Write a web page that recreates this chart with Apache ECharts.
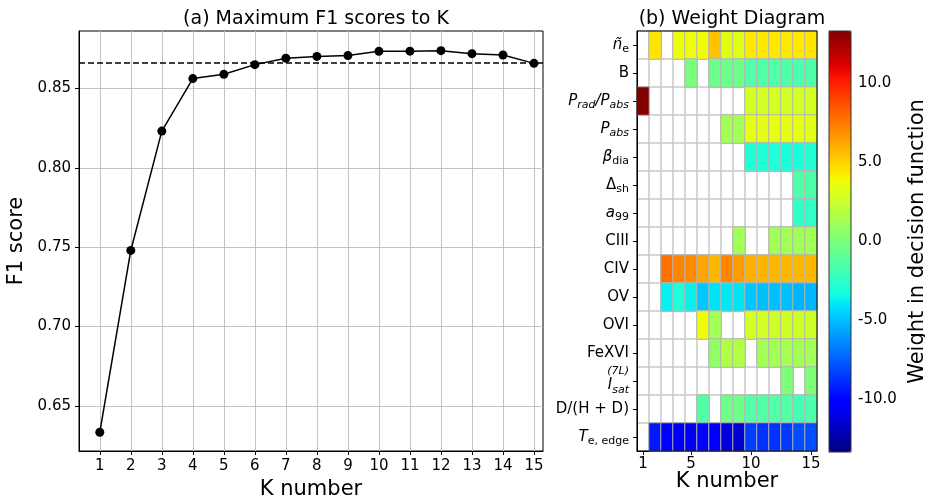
<!DOCTYPE html>
<html>
<head>
<meta charset="utf-8">
<script src="https://cdn.jsdelivr.net/npm/echarts@6/dist/echarts.min.js"></script>
<style>
  html, body { margin: 0; padding: 0; background: #fff; }
  #chart { width: 925px; height: 497px; }
</style>
</head>
<body>
<div id="chart"></div>
<script>
// ---- (a) best F1 score for each number of selected features K ----
const kNumbers = [1, 2, 3, 4, 5, 6, 7, 8, 9, 10, 11, 12, 13, 14, 15];
const f1Scores = [0.6334, 0.7480, 0.8232, 0.8563, 0.8590, 0.8651, 0.8691, 0.8703,
                  0.8708, 0.8735, 0.8736, 0.8739, 0.8720, 0.8712, 0.8659];
const f1Reference = 0.866;
const f1Ticks = [0.65, 0.70, 0.75, 0.80, 0.85];

// ---- (b) feature weights in the decision function (null = feature not used) ----
const featureLabels = [
  '{it|ñ}{sub|e}',
  '{rm|B}',
  '{it|P}{isub|rad}{it|/P}{isub|abs}',
  '{it|P}{isub|abs}',
  '{it|β}{sub|dia}',
  '{rm|Δ}{sub|sh}',
  '{it|a}{sub|99}',
  '{rm|CIII}',
  '{rm|CIV}',
  '{rm|OV}',
  '{rm|OVI}',
  '{rm|FeXVI}',
  '{sup|(7L)}\n{it|I}{isub|sat}',
  '{rm|D/(H + D)}',
  '{it|T}{sub|e, edge}'
];
const weightNe      = [null, 4.45, null, 3.6, 3.75, 3.8, 5.5, 3.3, 3.3, 4.35, 4.35, 4.35, 4.35, 4.35, 4.45];
const weightB       = [null, null, null, null, -0.1, null, -0.5, -0.5, -0.5, -1.4, -1.4, -1.4, -1.5, -1.6, -1.45];
const weightPratio  = [13.33, null, null, null, null, null, null, null, null, 2.85, 2.85, 2.85, 2.8, 2.8, 2.85];
const weightPabs    = [null, null, null, null, null, null, null, 1.3, 1.3, 3.4, 3.4, 3.45, 3.4, 3.4, 3.35];
const weightBeta    = [null, null, null, null, null, null, null, null, null, -3.0, -3.0, -3.0, -3.2, -3.2, -2.9];
const weightDeltaSh = [null, null, null, null, null, null, null, null, null, null, null, null, null, -1.45, -1.45];
const weightA99     = [null, null, null, null, null, null, null, null, null, null, null, null, null, -2.45, -2.45];
const weightCIII    = [null, null, null, null, null, null, null, null, 1.2, null, null, 1.2, 1.2, 1.2, 1.2];
const weightCIV     = [null, null, 7.7, 7.2, 7.0, 6.3, 5.75, 7.1, 6.5, 5.95, 5.85, 5.75, 5.75, 5.75, 5.75];
const weightOV      = [null, null, -3.7, -3.0, -3.7, -4.8, -4.1, -3.9, -4.0, -4.85, -5.0, -5.0, -5.0, -5.3, -5.2];
const weightOVI     = [null, null, null, null, null, 3.75, 1.2, null, null, 2.8, 2.8, 2.7, 2.75, 2.7, 2.7];
const weightFeXVI   = [null, null, null, null, null, null, 0.67, 1.7, 1.7, null, 1.2, 1.2, 1.2, 1.2, 1.2];
const weightIsat    = [null, null, null, null, null, null, null, null, null, null, null, null, 0.13, null, 0.13];
const weightDHD     = [null, null, null, null, null, -1.4, null, -0.45, -0.45, -1.4, -1.4, -1.4, -1.4, -1.8, -1.5];
const weightTeEdge  = [null, -9.4, -10.2, -10.6, -10.7, -9.9, -10.5, -11.2, -11.4, -8.4, -8.7, -8.7, -8.5, -8.0, -8.0];
const weightRows = [weightNe, weightB, weightPratio, weightPabs, weightBeta, weightDeltaSh, weightA99,
                    weightCIII, weightCIV, weightOV, weightOVI, weightFeXVI, weightIsat, weightDHD, weightTeEdge];
const weightLimit = 13.33;
const heatmapKTicks = [1, 5, 10, 15];
const colorbarTicks = [-10, -5, 0, 5, 10];

// ---- jet colour map (piecewise-linear segments) ----
const JET = {
  r: [[0, 0], [0.35, 0], [0.66, 1], [0.89, 1], [1, 0.5]],
  g: [[0, 0], [0.125, 0], [0.375, 1], [0.64, 1], [0.91, 0], [1, 0]],
  b: [[0, 0.5], [0.11, 1], [0.34, 1], [0.65, 0], [1, 0]]
};
function segValue(seg, t) {
  for (let i = 1; i < seg.length; i++) {
    if (t <= seg[i][0]) {
      const [x0, y0] = seg[i - 1], [x1, y1] = seg[i];
      return y0 + (y1 - y0) * (t - x0) / (x1 - x0);
    }
  }
  return seg[seg.length - 1][1];
}
function jet(t) {
  const c = [segValue(JET.r, t), segValue(JET.g, t), segValue(JET.b, t)].map(v => Math.round(v * 255));
  return 'rgb(' + c.join(',') + ')';
}
const jetColors = Array.from({ length: 129 }, (_, i) => jet(i / 128));

// heatmap cells: [K index, feature index, weight]
const heatmapData = [];
weightRows.forEach((row, r) => row.forEach((w, k) => {
  if (w !== null) heatmapData.push([k, r, w]);
}));

const FONT = 'DejaVu Sans';
const ink = '#000';

const labelRich = {
  it:   { fontFamily: FONT, fontSize: 15, fontStyle: 'italic', color: ink, lineHeight: 20 },
  rm:   { fontFamily: FONT, fontSize: 15, color: ink, lineHeight: 20 },
  sub:  { fontFamily: FONT, fontSize: 11, color: ink, verticalAlign: 'bottom', lineHeight: 20 },
  isub: { fontFamily: FONT, fontSize: 11, fontStyle: 'italic', color: ink, verticalAlign: 'bottom', lineHeight: 20 },
  sup:  { fontFamily: FONT, fontSize: 11, fontStyle: 'italic', color: ink, lineHeight: 9, padding: [0, 0, 0, 0] }
};

const chart = echarts.init(document.getElementById('chart'), null, { renderer: 'canvas' });

chart.setOption({
  animation: false,
  backgroundColor: '#fff',
  textStyle: { fontFamily: FONT },
  title: [
    { text: '(a) Maximum F1 scores to K', left: 311, top: 5, textAlign: 'center',
      textStyle: { fontFamily: FONT, fontSize: 19, fontWeight: 'normal', color: ink } },
    { text: '(b) Weight Diagram', left: 727, top: 5, textAlign: 'center',
      textStyle: { fontFamily: FONT, fontSize: 19, fontWeight: 'normal', color: ink } }
  ],
  grid: [
    { left: 79, top: 31, width: 464, height: 420, show: true, borderColor: ink, borderWidth: 1,
      backgroundColor: 'transparent', outerBoundsMode: 'none', containLabel: false },
    { left: 637, top: 31, width: 180, height: 420, show: true, borderColor: ink, borderWidth: 1,
      backgroundColor: 'transparent', z: 5, outerBoundsMode: 'none', containLabel: false },
    { left: 829, top: 31, width: 22, height: 421, show: true, borderColor: '#333', borderWidth: 1,
      backgroundColor: 'transparent', z: 10, outerBoundsMode: 'none', containLabel: false }
  ],
  xAxis: [
    {
      type: 'value', gridIndex: 0, min: 0.33, max: 15.29,
      axisLine: { show: true, lineStyle: { color: ink, width: 1 } },
      axisTick: { show: true, customValues: kNumbers, length: 4, lineStyle: { color: ink } },
      axisLabel: { customValues: kNumbers, fontSize: 15, color: ink, margin: 8, fontFamily: FONT },
      splitLine: { show: true, lineStyle: { color: '#c4c4c4', width: 1 } },
      name: 'K number', nameLocation: 'middle', nameGap: 26,
      nameTextStyle: { fontSize: 21, color: ink, fontFamily: FONT }
    },
    {
      type: 'category', gridIndex: 1, data: kNumbers,
      axisLine: { show: true, lineStyle: { color: ink } },
      axisTick: { show: true, alignWithLabel: true, length: 4, lineStyle: { color: ink },
                  interval: (i, v) => heatmapKTicks.includes(Number(v)) },
      axisLabel: { fontSize: 15, color: ink, margin: 6, fontFamily: FONT,
                   interval: (i, v) => heatmapKTicks.includes(Number(v)) },
      splitLine: { show: true, interval: 0, lineStyle: { color: '#c8c8c8', width: 1.5 } },
      name: 'K number', nameLocation: 'middle', nameGap: 20, nameMoveOverlap: false,
      nameTextStyle: { fontSize: 21, color: ink, fontFamily: FONT }
    },
    { type: 'value', gridIndex: 2, show: false, min: 0, max: 1 }
  ],
  yAxis: [
    {
      type: 'value', gridIndex: 0, min: 0.6216, max: 0.8863,
      axisLine: { show: true, lineStyle: { color: ink } },
      axisTick: { show: true, customValues: f1Ticks, length: 4, lineStyle: { color: ink } },
      axisLabel: { customValues: f1Ticks, formatter: v => v.toFixed(2), fontSize: 15, color: ink,
                   margin: 8, fontFamily: FONT },
      splitLine: { show: true, lineStyle: { color: '#c4c4c4', width: 1 } },
      name: 'F1 score', nameLocation: 'middle', nameRotate: 90, nameGap: 46,
      nameTextStyle: { fontSize: 21, color: ink, fontFamily: FONT }
    },
    {
      type: 'category', gridIndex: 1, data: featureLabels, inverse: true,
      axisLine: { show: true, lineStyle: { color: ink } },
      axisTick: { show: true, alignWithLabel: true, length: 4, lineStyle: { color: ink } },
      axisLabel: { interval: 0, margin: 8, formatter: v => v, rich: labelRich, color: ink },
      splitLine: { show: true, interval: 0, lineStyle: { color: '#c8c8c8', width: 1.5 } }
    },
    {
      type: 'value', gridIndex: 2, position: 'right', min: -weightLimit, max: weightLimit,
      axisLine: { show: true, lineStyle: { color: '#333' } },
      axisTick: { show: true, customValues: colorbarTicks, length: 4, lineStyle: { color: ink } },
      axisLabel: { customValues: colorbarTicks, formatter: v => v.toFixed(1), fontSize: 15, color: ink,
                   margin: 7, fontFamily: FONT },
      splitLine: { show: false },
      name: 'Weight in decision function', nameLocation: 'middle', nameRotate: 90, nameGap: 56,
      nameTextStyle: { fontSize: 21, color: ink, fontFamily: FONT }
    }
  ],
  visualMap: {
    type: 'continuous', seriesIndex: 1, dimension: 2,
    min: -weightLimit, max: weightLimit,
    inRange: { color: jetColors },
    calculable: false, show: true, orient: 'vertical',
    left: 829, top: 31, itemWidth: 22, itemHeight: 421, padding: 0,
    text: null, hoverLink: false
  },
  series: [
    {
      type: 'line', xAxisIndex: 0, yAxisIndex: 0,
      data: kNumbers.map((k, i) => [k, f1Scores[i]]),
      symbol: 'circle', symbolSize: 9,
      itemStyle: { color: ink },
      lineStyle: { color: ink, width: 1.5 },
      emphasis: { disabled: true },
      markLine: {
        silent: true, symbol: 'none', label: { show: false }, precision: 4,
        lineStyle: { color: ink, width: 1.5, type: [6, 3] },
        data: [{ yAxis: f1Reference }]
      }
    },
    {
      type: 'heatmap', xAxisIndex: 1, yAxisIndex: 1,
      data: heatmapData,
      itemStyle: { borderColor: '#b4b4b4', borderWidth: 1 },
      emphasis: { disabled: true }
    }
  ]
});
</script>
</body>
</html>
